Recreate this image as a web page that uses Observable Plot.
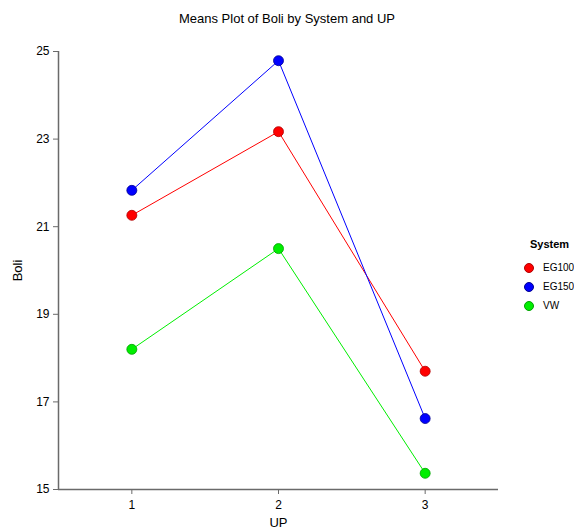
<!DOCTYPE html>
<html>
<head>
<meta charset="utf-8">
<script src="https://cdn.jsdelivr.net/npm/d3@7"></script>
<script src="https://cdn.jsdelivr.net/npm/@observablehq/plot@0.6"></script>
<style>
  html, body { margin: 0; padding: 0; background: #fff; }
  #wrap { position: relative; width: 574px; height: 530px; overflow: hidden; font-family: "Liberation Sans", Arial, sans-serif; }
  #title { position: absolute; top: 11px; left: 0; width: 574px; text-align: center; font-size: 13px; color: #000; }
  #legend { position: absolute; left: 524px; top: 238px; font-size: 10px; color: #000; }
  #legend .head { font-weight: bold; font-size: 11px; margin-left: 6px; margin-bottom: 8px; }
  #legend .item { display: flex; align-items: center; height: 19px; }
  #legend .sw { width: 10px; height: 10px; border-radius: 50%; box-sizing: border-box; margin-right: 9px; }
</style>
</head>
<body>
<div id="wrap">
  <div id="chart"></div>
  <div id="title">Means Plot of Boli by System and UP</div>
  <div id="legend"></div>
</div>
<script>
const systems = ["EG100", "EG150", "VW"];
const upLevels = [1, 2, 3];
const eg100 = [21.26, 23.17, 17.70];
const eg150 = [21.83, 24.79, 16.62];
const vw = [18.20, 20.50, 15.37];
const colors = ["#ff0000", "#0000ff", "#00ee00"];
const strokes = ["#b00000", "#000090", "#00a000"];
const yTicks = [15, 17, 19, 21, 23, 25];

const series = [eg100, eg150, vw];
const data = [];
systems.forEach((s, i) => upLevels.forEach((u, j) => data.push({system: s, up: u, boli: series[i][j]})));

const axisColor = "#6a6a6a";
const chart = Plot.plot({
  width: 574,
  height: 530,
  marginLeft: 58,
  marginRight: 76,
  marginTop: 51,
  marginBottom: 41,
  style: {fontFamily: "Liberation Sans, Arial, sans-serif", fontSize: "12px", color: "#000", background: "#fff"},
  x: {domain: [0.5, 3.5], ticks: upLevels, tickFormat: d => String(d), label: null},
  y: {domain: [15, 25], ticks: yTicks, label: null},
  color: {domain: systems, range: colors},
  marks: [
    Plot.ruleY([15], {stroke: axisColor, strokeWidth: 1.5}),
    Plot.ruleX([0.5], {stroke: axisColor, strokeWidth: 1.5}),
    Plot.axisX({ticks: upLevels, tickSize: 5, tickPadding: 6, stroke: axisColor, color: "#000", tickFormat: d => String(d), label: null, fontSize: 12}),
    Plot.axisY({ticks: yTicks, tickSize: 5, tickPadding: 4, stroke: axisColor, color: "#000", label: null, fontSize: 12}),
    Plot.axisX({ticks: [], label: "UP", labelAnchor: "center", labelArrow: "none", labelOffset: 37, fontSize: 13}),
    Plot.axisY({ticks: [], label: "Boli", labelAnchor: "center", labelArrow: "none", labelOffset: 46, fontSize: 13}),
    Plot.line(data, {x: "up", y: "boli", z: "system", stroke: "system", strokeWidth: 1}),
    Plot.dot(data, {x: "up", y: "boli", fill: "system", r: 5, stroke: d => strokes[systems.indexOf(d.system)], strokeWidth: 0.8})
  ]
});
document.getElementById("chart").appendChild(chart);

const legend = document.getElementById("legend");
const head = document.createElement("div");
head.className = "head";
head.textContent = "System";
legend.appendChild(head);
systems.forEach((s, i) => {
  const it = document.createElement("div");
  it.className = "item";
  const sw = document.createElement("div");
  sw.className = "sw";
  sw.style.background = colors[i];
  sw.style.border = "1px solid " + strokes[i];
  const t = document.createElement("span");
  t.textContent = s;
  it.appendChild(sw);
  it.appendChild(t);
  legend.appendChild(it);
});
</script>
</body>
</html>
